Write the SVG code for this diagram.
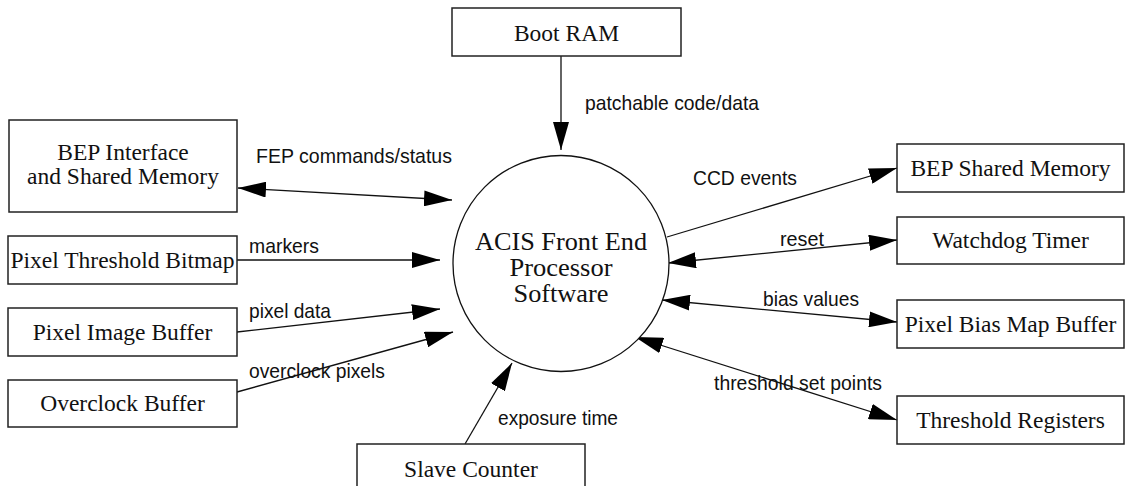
<svg xmlns="http://www.w3.org/2000/svg" width="1126" height="486" viewBox="0 0 1126 486">
<style>
.box{fill:#fff;stroke:#222;stroke-width:1.5}
.nt{font-family:"Liberation Serif","Times New Roman",serif;font-size:23.5px;fill:#111;text-anchor:middle}
.ct{font-family:"Liberation Serif","Times New Roman",serif;font-size:25px;fill:#111;text-anchor:middle}
.lb{font-family:"Liberation Sans",Arial,sans-serif;font-size:21px;fill:#111}
.cn{stroke:#111;stroke-width:1.3;fill:none}
</style>
<defs>
<marker id="ah" viewBox="0 0 28 16" refX="28" refY="8" markerWidth="28" markerHeight="16" markerUnits="userSpaceOnUse" orient="auto-start-reverse">
<path d="M0,0 L28,8 L0,16 Z" fill="#000"/>
</marker>
</defs>
<rect width="1126" height="486" fill="#fff"/>
<g id="connectors">
<line class="cn" x1="561" y1="56" x2="561" y2="150" marker-end="url(#ah)"/>
<line class="cn" x1="238" y1="188" x2="452" y2="200" marker-start="url(#ah)" marker-end="url(#ah)"/>
<line class="cn" x1="237" y1="260" x2="440" y2="260" marker-end="url(#ah)"/>
<line class="cn" x1="237" y1="332" x2="440" y2="309" marker-end="url(#ah)"/>
<line class="cn" x1="237" y1="392" x2="453" y2="332" marker-end="url(#ah)"/>
<line class="cn" x1="465" y1="444" x2="512" y2="363" marker-end="url(#ah)"/>
<line class="cn" x1="667" y1="237" x2="897" y2="168" marker-end="url(#ah)"/>
<line class="cn" x1="668" y1="263" x2="897" y2="240" marker-start="url(#ah)" marker-end="url(#ah)"/>
<line class="cn" x1="662" y1="300" x2="897" y2="322" marker-start="url(#ah)" marker-end="url(#ah)"/>
<line class="cn" x1="635" y1="337" x2="897" y2="420" marker-start="url(#ah)" marker-end="url(#ah)"/>
<text class="lb" x="585" y="110" textLength="174" lengthAdjust="spacingAndGlyphs">patchable code/data</text>
<text class="lb" x="256" y="163" textLength="196" lengthAdjust="spacingAndGlyphs">FEP commands/status</text>
<text class="lb" x="249" y="253" textLength="70" lengthAdjust="spacingAndGlyphs">markers</text>
<text class="lb" x="249" y="318" textLength="82" lengthAdjust="spacingAndGlyphs">pixel data</text>
<text class="lb" x="249" y="378" textLength="136" lengthAdjust="spacingAndGlyphs">overclock pixels</text>
<text class="lb" x="498" y="425" textLength="120" lengthAdjust="spacingAndGlyphs">exposure time</text>
<text class="lb" x="693" y="185" textLength="104" lengthAdjust="spacingAndGlyphs">CCD events</text>
<text class="lb" x="780" y="246" textLength="44" lengthAdjust="spacingAndGlyphs">reset</text>
<text class="lb" x="763" y="306" textLength="96" lengthAdjust="spacingAndGlyphs">bias values</text>
<text class="lb" x="714" y="390" textLength="168" lengthAdjust="spacingAndGlyphs">threshold set points</text>
</g>
<g id="fep">
<circle cx="561" cy="263.5" r="108" fill="#fff" stroke="#111" stroke-width="1.3"/>
<text class="ct" x="561" y="250" textLength="172" lengthAdjust="spacingAndGlyphs">ACIS Front End</text>
<text class="ct" x="561" y="276" textLength="103" lengthAdjust="spacingAndGlyphs">Processor</text>
<text class="ct" x="561" y="302" textLength="95" lengthAdjust="spacingAndGlyphs">Software</text>
</g>
<g id="boot-ram"><rect class="box" x="452" y="8" width="229" height="48"/><text class="nt" x="566.5" y="41">Boot RAM</text></g>
<g id="bep-interface"><rect class="box" x="9" y="120" width="228" height="92"/><text class="nt" x="123" y="160">BEP Interface</text><text class="nt" x="123" y="184">and Shared Memory</text></g>
<g id="pixel-threshold-bitmap"><rect class="box" x="8" y="236" width="229" height="48"/><text class="nt" x="122.5" y="268">Pixel Threshold Bitmap</text></g>
<g id="pixel-image-buffer"><rect class="box" x="8" y="308" width="229" height="48"/><text class="nt" x="122.5" y="340">Pixel Image Buffer</text></g>
<g id="overclock-buffer"><rect class="box" x="8" y="380" width="229" height="47"/><text class="nt" x="122.5" y="411">Overclock Buffer</text></g>
<g id="slave-counter"><rect class="box" x="357" y="444" width="228" height="50"/><text class="nt" x="471" y="477">Slave Counter</text></g>
<g id="bep-shared-memory"><rect class="box" x="897" y="144" width="227" height="48"/><text class="nt" x="1010.5" y="176">BEP Shared Memory</text></g>
<g id="watchdog-timer"><rect class="box" x="897" y="217" width="227" height="47"/><text class="nt" x="1010.5" y="248">Watchdog Timer</text></g>
<g id="pixel-bias-map-buffer"><rect class="box" x="897" y="300" width="227" height="48"/><text class="nt" x="1010.5" y="332">Pixel Bias Map Buffer</text></g>
<g id="threshold-registers"><rect class="box" x="897" y="396" width="227" height="48"/><text class="nt" x="1010.5" y="428">Threshold Registers</text></g>
</svg>
